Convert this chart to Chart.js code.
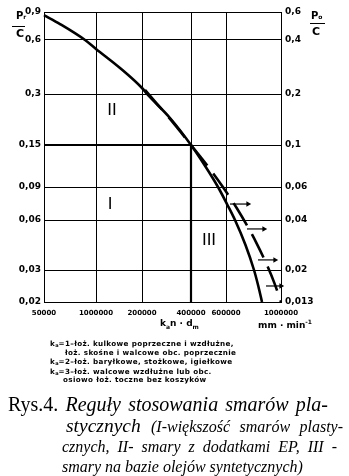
<!DOCTYPE html>
<html>
<head>
<meta charset="utf-8">
<script src="https://cdn.jsdelivr.net/npm/chart.js@4/dist/chart.umd.min.js"></script>
<style>
  html, body { margin: 0; padding: 0; background: #fff; }
  #wrap { position: relative; width: 349px; height: 476px; overflow: hidden; background: #fff; }
  #chart { position: absolute; left: 0; top: 0; }
  .t { position: absolute; white-space: nowrap; color: #000; line-height: 1; }
  .cad { font-family: "DejaVu Sans", sans-serif; font-weight: bold; }
  .bar { position: absolute; height: 1.5px; background: #000; }
  .leg { font-family: "DejaVu Sans", sans-serif; font-weight: bold; font-size: 7.2px; letter-spacing: 0.35px; }
  .leg sub { font-size: 5px; vertical-align: -1px; letter-spacing: 0; }
  .cap { font-family: "Liberation Serif", "Times New Roman", serif; font-style: italic; }
  .cap .up { font-style: normal; }
  .just { text-align: justify; text-align-last: justify; white-space: normal; }
</style>
</head>
<body>
<div id="wrap">
  <canvas id="chart" width="349" height="476"></canvas>

  <!-- axis quantities -->
  <div class="t cad" style="left:16px;top:11px;font-size:10px;">P<span style="font-size:6px;">r</span></div>
  <div class="bar" style="left:12px;top:25.5px;width:13px;"></div>
  <div class="t cad" style="left:16px;top:27.5px;font-size:11px;">C</div>

  <div class="t cad" style="left:311px;top:11px;font-size:10px;">P<span style="font-size:6px;">o</span></div>
  <div class="bar" style="left:310px;top:22.5px;width:15px;"></div>
  <div class="t cad" style="left:312px;top:25.5px;font-size:11px;">C</div>

  <div class="t cad" style="left:160px;top:319px;font-size:9px;">k<sub style="font-size:6px;">a</sub>n · d<sub style="font-size:6px;">m</sub></div>
  <div class="t cad" style="left:258px;top:319px;font-size:9px;">mm · min<sup style="font-size:6px;">-1</sup></div>

  <!-- bearing factor key -->
  <div class="t leg" style="left:50px;top:340px;">k<sub>a</sub>=1–łoż. kulkowe poprzeczne i wzdłużne,</div>
  <div class="t leg" style="left:65px;top:348.5px;">łoż. skośne i walcowe obc. poprzecznie</div>
  <div class="t leg" style="left:50px;top:357.5px;">k<sub>a</sub>=2–łoż. baryłkowe, stożkowe, igiełkowe</div>
  <div class="t leg" style="left:50px;top:367.5px;">k<sub>a</sub>=3–łoż. walcowe wzdłużne lub obc.</div>
  <div class="t leg" style="left:63px;top:376px;">osiowo łoż. toczne bez koszyków</div>

  <!-- figure caption -->
  <div class="t cap just" style="left:8px;top:394px;width:320px;font-size:20px;"><span class="up">Rys.4.</span> Reguły stosowania smarów pla-</div>
  <div class="t cap just" style="left:66px;top:416px;width:277px;font-size:19.5px;">stycznych <span style="font-size:16px;">(I-większość smarów plasty-</span></div>
  <div class="t cap just" style="left:62px;top:439px;width:275px;font-size:16px;">cznych, II- smary z dodatkami EP, III -</div>
  <div class="t cap" style="left:62px;top:458.5px;font-size:16px;">smary na bazie olejów syntetycznych)</div>
</div>

<script>
// Axis ticks
const xTickValues = [50000, 100000, 200000, 400000, 600000, 1000000];
const xTickLabels = ['50000', '1000000', '200000', '400000', '600000', '1000000'];
const prTickValues = [0.02, 0.03, 0.06, 0.09, 0.15, 0.3, 0.6, 0.9];
const prTickLabels = ['0,02', '0,03', '0,06', '0,09', '0,15', '0,3', '0,6', '0,9'];
const poTickValues = [0.013, 0.02, 0.04, 0.06, 0.1, 0.2, 0.4, 0.6];
const poTickLabels = ['0,013', '0,02', '0,04', '0,06', '0,1', '0,2', '0,4', '0,6'];

// Limit curve for common greases (k_a·n·d_m vs. Pr/C)
const limitSpeed = [50000, 61900, 86400, 100000, 143600, 200000, 214700, 297200, 400000,
                    467700, 546900, 605600, 652300, 719100, 778200, 809800, 838200];
const limitLoad  = [0.86, 0.756, 0.6, 0.535, 0.419, 0.324, 0.3, 0.2165, 0.15,
                    0.1176, 0.09, 0.073, 0.06, 0.0424, 0.03, 0.0245, 0.02];

// Extended limit for synthetic-oil greases (dashed)
const synthSpeed = [208700, 297200, 400000, 489400, 578800, 662700, 747100, 792800, 870700, 940600, 1000000];
const synthLoad  = [0.316, 0.2137, 0.15, 0.1148, 0.09, 0.0695, 0.0522, 0.0442, 0.033, 0.0254, 0.02];

// Border between region I and region II
const boundarySpeed = [50000, 400000, 400000];
const boundaryLoad  = [0.15, 0.15, 0.02];

// Shift arrows towards region III
const arrowLoad = [0.073, 0.053, 0.0345, 0.0245];
const arrowFrom = [622700, 729200, 807700, 870000];
const arrowTo   = [736000, 853900, 945800, 1000000];

// Region names
const regionNames = ['II', 'I', 'III'];
const regionSpeed = [127300, 123500, 492700];
const regionLoad  = [0.241, 0.073, 0.0455];

// Relative length of each interval between neighbouring ticks on the nomogram axes
const axisSpans = {
  x:  [52, 46, 49, 35, 55],
  y:  [32, 50, 33, 42, 51, 54, 28],
  y1: [32, 50, 33, 42, 51, 54, 28]
};
const axisBreaks = { x: xTickValues, y: prTickValues, y1: poTickValues };

// Nomogram scale: fixed tick values, log interpolation inside each interval
class NomogramScale extends Chart.LinearScale {
  determineDataLimits() {
    const b = axisBreaks[this.id];
    this.min = b[0];
    this.max = b[b.length - 1];
  }
  buildTicks() {
    return axisBreaks[this.id].map(v => ({ value: v }));
  }
  _decimal(v) {
    const b = axisBreaks[this.id], w = axisSpans[this.id];
    const total = w.reduce((a, c) => a + c, 0);
    let acc = 0;
    for (let i = 0; i < b.length - 1; i++) {
      if (v <= b[i + 1] || i === b.length - 2) {
        const f = Math.log(v / b[i]) / Math.log(b[i + 1] / b[i]);
        return (acc + f * w[i]) / total;
      }
      acc += w[i];
    }
    return 1;
  }
  getPixelForValue(v) {
    return this.getPixelForDecimal(this._decimal(v));
  }
  getValueForPixel(p) {
    const d = this.getDecimalForPixel(p);
    const b = axisBreaks[this.id], w = axisSpans[this.id];
    const total = w.reduce((a, c) => a + c, 0);
    let acc = 0;
    for (let i = 0; i < b.length - 1; i++) {
      const end = acc + w[i] / total;
      if (d <= end || i === b.length - 2) {
        const f = (d - acc) / (w[i] / total);
        return b[i] * Math.pow(b[i + 1] / b[i], f);
      }
      acc = end;
    }
    return b[b.length - 1];
  }
}
NomogramScale.id = 'nomogram';
NomogramScale.defaults = {};
Chart.register(NomogramScale);

const toPoints = (xs, ys) => xs.map((v, i) => ({ x: v, y: ys[i] }));

const arrowSets = arrowLoad.map((load, i) => ({
  data: [{ x: arrowFrom[i], y: load }, { x: arrowTo[i], y: load }],
  borderColor: '#000',
  backgroundColor: '#000',
  borderWidth: 1.2,
  pointRadius: [0, 3.2],
  pointStyle: 'triangle',
  rotation: 90,
  pointBorderWidth: 0,
  tension: 0
}));

const regionText = {
  id: 'regionText',
  afterDatasetsDraw(chart) {
    const { ctx, scales } = chart;
    ctx.save();
    ctx.fillStyle = '#000';
    ctx.font = '17px "Liberation Sans"';
    ctx.textAlign = 'center';
    ctx.textBaseline = 'middle';
    regionNames.forEach((name, i) => {
      ctx.fillText(name, scales.x.getPixelForValue(regionSpeed[i]), scales.y.getPixelForValue(regionLoad[i]));
    });
    ctx.restore();
  }
};

const tickFont = size => ({ family: 'DejaVu Sans', size, weight: 'bold' });

new Chart(document.getElementById('chart'), {
  type: 'line',
  data: {
    datasets: [
      {
        data: toPoints(limitSpeed, limitLoad),
        borderColor: '#000', borderWidth: 2.6, pointRadius: 0,
        cubicInterpolationMode: 'monotone'
      },
      {
        data: toPoints(synthSpeed, synthLoad),
        borderColor: '#000', borderWidth: 2.6, pointRadius: 0,
        borderDash: [26, 10], borderCapStyle: 'butt',
        cubicInterpolationMode: 'monotone'
      },
      {
        data: toPoints(boundarySpeed, boundaryLoad),
        borderColor: '#000', borderWidth: 2.2, pointRadius: 0, tension: 0
      },
      ...arrowSets
    ]
  },
  options: {
    responsive: false,
    animation: false,
    events: [],
    layout: { padding: { top: 12, left: 0, right: 0, bottom: 0 } },
    plugins: { legend: { display: false }, tooltip: { enabled: false } },
    scales: {
      x: {
        type: 'nomogram',
        position: 'bottom',
        afterFit: s => { s.height = 174; },
        grid: { color: '#000', lineWidth: 1, drawTicks: false },
        border: { display: true, color: '#000', width: 1 },
        ticks: {
          autoSkip: false, maxRotation: 0, padding: 7,
          color: '#000', font: tickFont(7),
          callback: (v, i) => xTickLabels[i]
        }
      },
      y: {
        type: 'nomogram',
        position: 'left',
        afterFit: s => { s.width = 44; },
        grid: { color: '#000', lineWidth: 1, drawTicks: false },
        border: { display: true, color: '#000', width: 1 },
        ticks: {
          autoSkip: false, padding: 3,
          color: '#000', font: tickFont(9),
          callback: (v, i) => prTickLabels[i]
        }
      },
      y1: {
        type: 'nomogram',
        position: 'right',
        afterFit: s => { s.width = 68; },
        grid: { display: false, drawTicks: false },
        border: { display: true, color: '#000', width: 1 },
        ticks: {
          autoSkip: false, padding: 4,
          color: '#000', font: tickFont(9),
          callback: (v, i) => poTickLabels[i]
        }
      }
    }
  },
  plugins: [regionText]
});
</script>
</body>
</html>
